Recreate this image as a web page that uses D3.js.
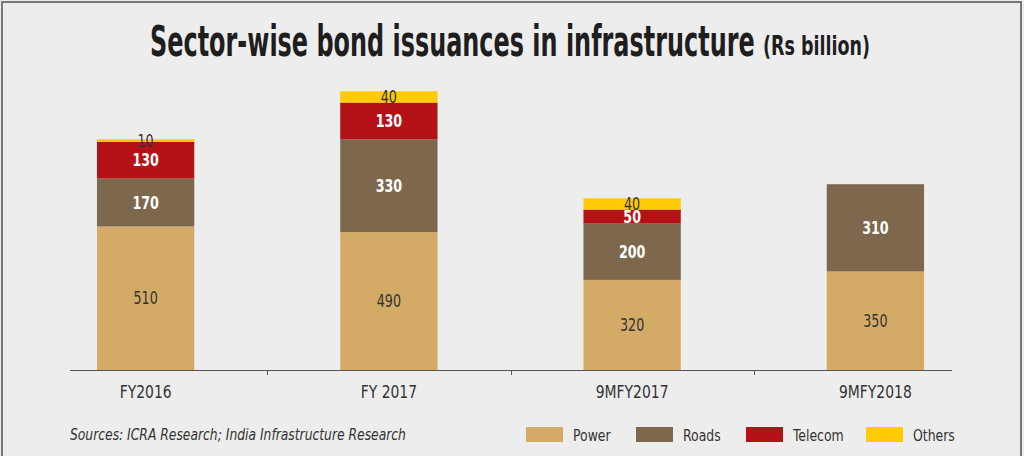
<!DOCTYPE html>
<html lang="en">
<head>
  <meta charset="UTF-8">
  <title>Sector-wise bond issuances in infrastructure</title>
  <style>
    html, body { margin: 0; padding: 0; background: #ededed; }
    svg { display: block; }
    text { font-family: 'Liberation Sans Narrow', 'Arial Narrow', 'DejaVu Sans Condensed', sans-serif; }
  </style>
</head>
<body>
<div id="chart"></div>
<script src="https://cdn.jsdelivr.net/npm/d3@7"></script>
<script>
let categories = ['FY2016', 'FY 2017', '9MFY2017', '9MFY2018']
let seriesNames = ['Power', 'Roads', 'Telecom', 'Others']
let power = [510, 490, 320, 350]
let roads = [170, 330, 200, 310]
let telecom = [130, 130, 50, 0]
let others = [10, 40, 40, 0]

let width = 1024
let height = 456
let colors = { Power: '#d3ab67', Roads: '#7e684d', Telecom: '#b51218', Others: '#fecb04' }
let labelStyle = {
  Power: { fill: '#333', weight: 'normal' },
  Roads: { fill: '#fff', weight: 'bold' },
  Telecom: { fill: '#fff', weight: 'bold' },
  Others: { fill: '#333', weight: 'normal' }
}

// rows for d3.stack
let rows = categories.map((c, i) => ({
  cat: c, Power: power[i], Roads: roads[i], Telecom: telecom[i], Others: others[i]
}))

// condensed look: squeeze text horizontally around its anchor
function squeeze (sel, px, py, sx) {
  sel.attr('x', 0).attr('y', 0)
    .attr('transform', (d, i) => 'translate(' + (typeof px === 'function' ? px(d, i) : px) + ',' +
      (typeof py === 'function' ? py(d, i) : py) + ') scale(' + sx + ',1)')
}
// squeeze a single text so it fills a given width
function fitWidth (sel, px, py, w) {
  let len = sel.node().getComputedTextLength()
  squeeze(sel, px, py, w / len)
}

let svg = d3.select('#chart').append('svg').attr('width', width).attr('height', height)

// frame
svg.append('rect').attr('x', 0).attr('y', 0).attr('width', width).attr('height', height).attr('fill', '#ededed')
svg.append('path').attr('d', 'M2,' + height + 'V2H1021V' + height)
  .attr('fill', 'none').attr('stroke', '#777').attr('stroke-width', 2)

// title
let t1 = svg.append('text').text('Sector-wise bond issuances in infrastructure')
  .attr('font-size', 42).attr('font-weight', 'bold').attr('fill', '#1e1e1e')
fitWidth(t1, 150, 56, 605)
let t2 = svg.append('text').text('(Rs billion)')
  .attr('font-size', 26).attr('font-weight', 'bold').attr('fill', '#1e1e1e')
fitWidth(t2, 763, 55, 107)

// scales
let x = d3.scaleBand().domain(categories).range([24, 997]).paddingInner(0.6).paddingOuter(0.3)
let y = d3.scaleLinear().domain([0, 1000]).range([370, 88.5])

let stacked = d3.stack().keys(seriesNames)(rows)

let layer = svg.selectAll('g.layer').data(stacked).enter().append('g')
  .attr('class', 'layer').attr('fill', d => colors[d.key])

layer.selectAll('rect').data(d => d.filter(s => s[1] - s[0] > 0)).enter().append('rect')
  .attr('x', d => x(d.data.cat))
  .attr('y', d => y(d[1]))
  .attr('width', x.bandwidth())
  .attr('height', d => y(d[0]) - y(d[1]))

// segment labels
stacked.forEach(s => {
  let t = svg.append('g').selectAll('text').data(s.filter(d => d[1] - d[0] > 0)).enter().append('text')
    .attr('dy', '0.36em')
    .attr('text-anchor', 'middle')
    .attr('font-size', 17)
    .attr('font-weight', labelStyle[s.key].weight)
    .attr('fill', labelStyle[s.key].fill)
    .text(d => d[1] - d[0])
  squeeze(t, d => x(d.data.cat) + x.bandwidth() / 2, d => (y(d[0]) + y(d[1])) / 2, 0.83)
})

// x axis
let xAxis = d3.axisBottom(x).tickSize(0).tickPadding(15)
let gx = svg.append('g').attr('transform', 'translate(0,370)').call(xAxis)
gx.select('.domain').remove()
gx.selectAll('.tick text').attr('font-size', 18).attr('fill', '#333')
  .style('font-family', "'Liberation Sans Narrow', 'Arial Narrow', 'DejaVu Sans Condensed', sans-serif")
  .attr('transform', 'translate(0,15) scale(0.86,1)').attr('y', 0)

let step = x.step()
let x0 = x(categories[0]) - 27
let x1 = x(categories[categories.length - 1]) + x.bandwidth() + 28
svg.append('line').attr('x1', x0).attr('x2', x1).attr('y1', 370.5).attr('y2', 370.5)
  .attr('stroke', '#555').attr('stroke-width', 1.2)
categories.slice(0, -1).forEach(c => {
  let tx = Math.round(x(c) + x.bandwidth() + step * x.paddingOuter()) + 0.5
  svg.append('line').attr('x1', tx).attr('x2', tx).attr('y1', 370).attr('y2', 375)
    .attr('stroke', '#555').attr('stroke-width', 1)
})

// source
let src = svg.append('text')
  .attr('font-size', 15.5).attr('font-style', 'italic').attr('fill', '#333')
  .text('Sources: ICRA Research; India Infrastructure Research')
squeeze(src, 70, 440, 0.885)

// legend
let legendX = [526, 636, 746, 866]
let legend = svg.append('g').selectAll('g').data(seriesNames).enter().append('g')
  .attr('transform', (d, i) => 'translate(' + legendX[i] + ',427)')
legend.append('rect').attr('width', 37).attr('height', 15).attr('fill', d => colors[d])
let lt = legend.append('text').attr('font-size', 16.5).attr('fill', '#333').text(d => d)
squeeze(lt, 47, 14, 0.84)
</script>
</body>
</html>
